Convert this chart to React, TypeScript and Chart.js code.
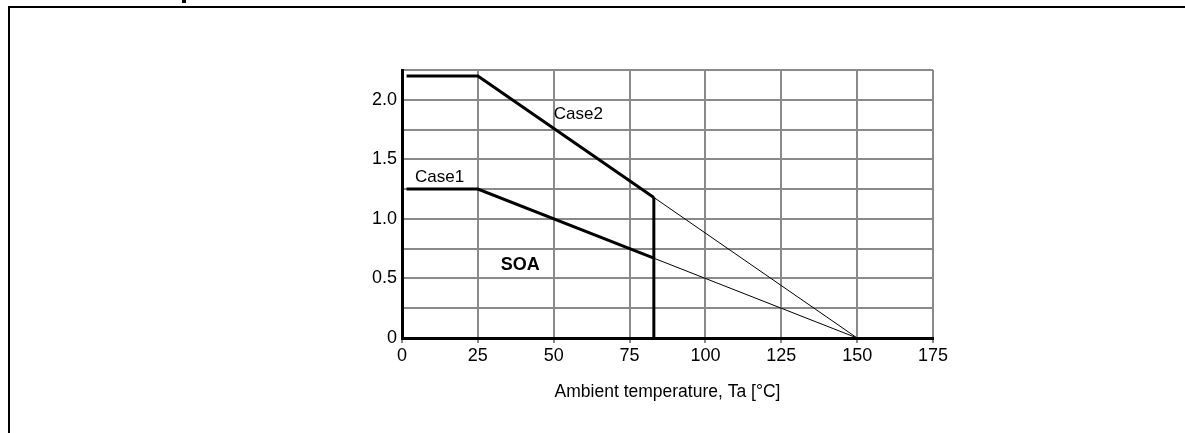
import React, { useEffect, useRef } from "react";
import { Chart, registerables } from "chart.js";

Chart.register(...registerables);

// Break points of the derating curves (ambient temperature, °C)
const temps = [1.5, 25, 83, 150];
const case1 = [1.25, 1.25, 0.67, 0];
const case2 = [2.2, 2.2, 1.18, 0];
const xTicks = [0, 25, 50, 75, 100, 125, 150, 175];
const yLabelTicks = [0, 0.5, 1.0, 1.5, 2.0];
const xTitle = "Ambient temperature, Ta [°C]";
const annotations = [
  { text: "Case2", x: 50, y: 1.88, bold: false, size: 17, align: "left" as CanvasTextAlign },
  { text: "Case1", x: 4.3, y: 1.35, bold: false, size: 17, align: "left" as CanvasTextAlign },
  { text: "SOA", x: 39, y: 0.61, bold: true, size: 18, align: "center" as CanvasTextAlign },
];

const FONT = '"Liberation Sans", Arial, Helvetica, sans-serif';

export default function App() {
  const ref = useRef<HTMLCanvasElement | null>(null);

  useEffect(() => {
    if (!ref.current) return;
    const pts = (ys: number[], from: number, to: number) =>
      temps.slice(from, to + 1).map((t, i) => ({ x: t, y: ys[from + i] }));
    const cut = 2; // index of the cut-off temperature
    const thick = { borderColor: "#000", borderWidth: 3, pointRadius: 0, fill: false, tension: 0 };
    const thin = { borderColor: "#000", borderWidth: 1, pointRadius: 0, fill: false, tension: 0 };

    const textPlugin = {
      id: "texts",
      afterDatasetsDraw(chart: any) {
        const { ctx, scales, chartArea } = chart;
        ctx.save();
        ctx.fillStyle = "#000";
        ctx.textBaseline = "middle";
        for (const a of annotations) {
          ctx.font = `${a.bold ? "bold " : ""}${a.size}px ${FONT}`;
          ctx.textAlign = a.align;
          ctx.fillText(a.text, scales.x.getPixelForValue(a.x), scales.y.getPixelForValue(a.y));
        }
        ctx.font = `17.5px ${FONT}`;
        ctx.textAlign = "center";
        ctx.fillText(xTitle, (chartArea.left + chartArea.right) / 2, 392);
        ctx.restore();
      },
    };

    const chart = new Chart(ref.current, {
      type: "line",
      data: {
        datasets: [
          { ...thick, data: pts(case2, 0, cut) },
          { ...thin, data: pts(case2, cut, 3) },
          { ...thick, data: pts(case1, 0, cut) },
          { ...thin, data: pts(case1, cut, 3) },
          { ...thick, data: [{ x: temps[cut], y: 0 }, { x: temps[cut], y: case2[cut] }] },
        ] as any,
      },
      options: {
        animation: false,
        responsive: false,
        events: [],
        layout: { padding: { left: 352, right: 252, top: 70, bottom: 65 } },
        plugins: { legend: { display: false }, tooltip: { enabled: false }, title: { display: false } },
        scales: {
          x: {
            type: "linear",
            min: 0,
            max: 175,
            afterFit: (s: any) => { s.height = 30; },
            afterBuildTicks: (s: any) => { s.ticks = xTicks.map((v) => ({ value: v })); },
            grid: { color: "#8a8a8a", lineWidth: 2, tickLength: 5, drawTicks: true },
            border: { color: "#000", width: 3 },
            ticks: { color: "#000", font: { family: FONT, size: 18 }, padding: 2, maxRotation: 0, autoSkip: false },
          },
          y: {
            type: "linear",
            min: 0,
            max: 2.25,
            afterFit: (s: any) => { s.width = 50; },
            grid: { color: "#8a8a8a", lineWidth: 2, drawTicks: false },
            border: { color: "#000", width: 3 },
            ticks: {
              stepSize: 0.25,
              color: "#000",
              padding: 5,
              font: { family: FONT, size: 18 },
              autoSkip: false,
              callback: (v: any) => {
                const n = Number(v);
                const hit = yLabelTicks.find((t) => Math.abs(t - n) < 1e-6);
                if (hit === undefined) return "";
                return hit === 0 ? "0" : hit.toFixed(1);
              },
            },
          },
        },
      },
      plugins: [textPlugin],
    });
    return () => chart.destroy();
  }, []);

  return (
    <div style={{ position: "absolute", left: 0, top: 0, width: 1185, height: 433, background: "#fff", overflow: "hidden" }}>
      <div style={{ position: "absolute", left: 182, top: 0, width: 4, height: 3, background: "#000" }} />
      <div
        style={{
          position: "absolute",
          left: 8,
          top: 6,
          width: 1185,
          height: 440,
          borderTop: "2px solid #000",
          borderLeft: "2px solid #000",
          boxSizing: "border-box",
        }}
      />
      <canvas ref={ref} width={1185} height={433} style={{ position: "absolute", left: 0, top: 0, display: "block" }} />
    </div>
  );
}
